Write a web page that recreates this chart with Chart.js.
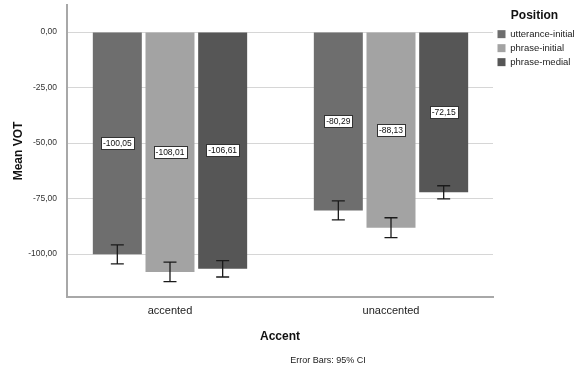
<!DOCTYPE html>
<html>
<head>
<meta charset="utf-8">
<script src="https://cdn.jsdelivr.net/npm/chart.js@4"></script>
<style>
  html, body { margin: 0; padding: 0; background: #fff; }
  #wrap { width: 576px; height: 371px; }
</style>
</head>
<body>
<div id="wrap"><canvas id="chart" width="576" height="371"></canvas></div>
<script>
const categories = ["accented", "unaccented"];
const positions = ["utterance-initial", "phrase-initial", "phrase-medial"];
const colors = ["#6e6e6e", "#a3a3a3", "#565656"];

// mean VOT per position, one entry per accent category
const utteranceInitial = [-100.05, -80.29];
const phraseInitial = [-108.01, -88.13];
const phraseMedial = [-106.61, -72.15];

// 95% CI bounds
const ciLow = [[-104.4, -84.6], [-112.4, -92.6], [-110.3, -75.1]];
const ciHigh = [[-95.8, -76.0], [-103.6, -83.6], [-102.9, -69.2]];

const yTicks = [0, -25, -50, -75, -100];

const FONT = 'Arial, "Liberation Sans", sans-serif';
const fmt = v => v.toFixed(2).replace('.', ',');

const series = [utteranceInitial, phraseInitial, phraseMedial];

const errorBars = {
  id: 'errorBars',
  afterDatasetsDraw(chart) {
    const ctx = chart.ctx;
    const y = chart.scales.y;
    ctx.save();
    chart.data.datasets.forEach((ds, di) => {
      const meta = chart.getDatasetMeta(di);
      meta.data.forEach((bar, i) => {
        const top = y.getPixelForValue(ciHigh[di][i]);
        const bot = y.getPixelForValue(ciLow[di][i]);
        ctx.strokeStyle = '#1a1a1a';
        ctx.lineWidth = 1.3;
        ctx.beginPath();
        ctx.moveTo(bar.x, top); ctx.lineTo(bar.x, bot);
        ctx.moveTo(bar.x - 6.5, top); ctx.lineTo(bar.x + 6.5, top);
        ctx.moveTo(bar.x - 6.5, bot); ctx.lineTo(bar.x + 6.5, bot);
        ctx.stroke();
      });
    });
    // value boxes in the middle of each bar
    ctx.font = '8.5px ' + FONT;
    ctx.textAlign = 'center';
    ctx.textBaseline = 'middle';
    chart.data.datasets.forEach((ds, di) => {
      const meta = chart.getDatasetMeta(di);
      meta.data.forEach((bar, i) => {
        const v = series[di][i];
        const txt = fmt(v);
        const cy = y.getPixelForValue(v / 2);
        const w = ctx.measureText(txt).width + 4;
        const h = 12;
        const bx = Math.round(bar.x - w / 2) + 0.5;
        const by = Math.round(cy - h / 2) + 0.5;
        ctx.fillStyle = '#fff';
        ctx.fillRect(bx, by, Math.round(w), h);
        ctx.strokeStyle = '#333';
        ctx.lineWidth = 1;
        ctx.strokeRect(bx, by, Math.round(w), h);
        ctx.fillStyle = '#111';
        ctx.fillText(txt, bar.x, cy + 0.5);
      });
    });
    // footnote
    ctx.font = '9px ' + FONT;
    ctx.fillStyle = '#222';
    ctx.fillText('Error Bars: 95% CI', 328, 361);
    ctx.restore();
  }
};

new Chart(document.getElementById('chart'), {
  type: 'bar',
  data: {
    datasets: positions.map((p, di) => ({
      label: p,
      data: series[di].map((v, i) => ({ x: i, y: v })),
      backgroundColor: colors[di],
      borderWidth: 0,
      categoryPercentage: 0.715,
      barPercentage: 0.93
    }))
  },
  options: {
    responsive: false,
    animation: false,
    layout: { padding: { top: 5, bottom: 26, left: 0, right: 0 } },
    plugins: {
      tooltip: { enabled: false },
      legend: {
        position: 'right',
        align: 'start',
        maxWidth: 83,
        title: {
          display: true,
          text: 'Position',
          color: '#111',
          font: { family: FONT, size: 12, weight: 'bold' },
          padding: { top: 5, bottom: 0.5 }
        },
        labels: {
          boxWidth: 8,
          boxHeight: 8,
          padding: 4.5,
          color: '#222',
          font: { family: FONT, size: 9.5 }
        }
      }
    },
    scales: {
      x: {
        type: 'linear',
        min: -0.466,
        max: 1.4615,
        offset: false,
        afterBuildTicks: s => { s.ticks = categories.map((c, i) => ({ value: i })); },
        afterFit: s => { s.height = 48; s.paddingLeft = 0; s.paddingRight = 0; },
        ticks: {
          autoSkip: false,
          maxRotation: 0,
          padding: 7,
          color: '#222',
          font: { family: FONT, size: 11 },
          callback: v => categories[Math.round(v)]
        },
        grid: { drawOnChartArea: false, drawTicks: false },
        border: { display: true, color: '#a8a8a8', width: 2 },
        title: {
          display: true,
          text: 'Accent',
          color: '#111',
          font: { family: FONT, size: 12, weight: 'bold' },
          padding: { top: 12, bottom: 1 }
        }
      },
      y: {
        min: -119.3,
        max: 12.2,
        afterBuildTicks: s => { s.ticks = yTicks.map(v => ({ value: v })); },
        afterFit: s => { s.width = 67; s.paddingTop = 0; s.paddingBottom = 0; },
        ticks: {
          padding: 10,
          color: '#333',
          font: { family: FONT, size: 8.5 },
          callback: v => fmt(v)
        },
        grid: { color: '#d6d6d6', lineWidth: 1, drawTicks: false },
        border: { display: true, color: '#a8a8a8', width: 2 },
        title: {
          display: true,
          text: 'Mean VOT',
          color: '#111',
          font: { family: FONT, size: 12, weight: 'bold' },
          padding: { top: 11, bottom: 0 }
        }
      }
    }
  },
  plugins: [errorBars]
});
</script>
</body>
</html>
